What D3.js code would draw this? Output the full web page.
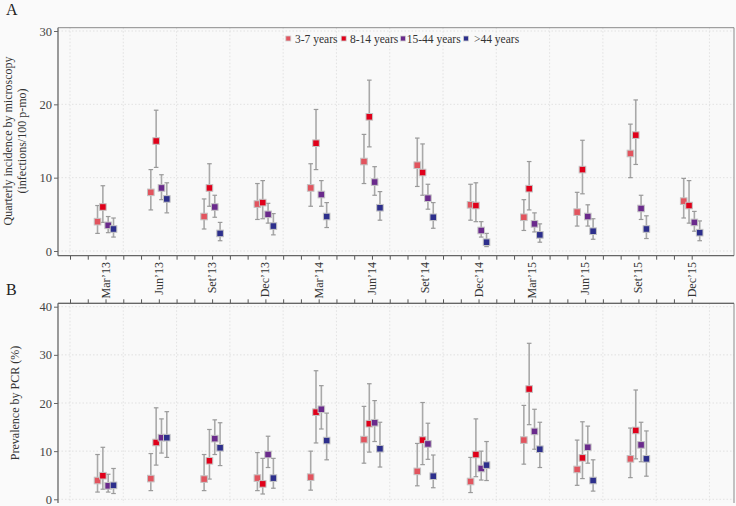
<!DOCTYPE html>
<html><head><meta charset="utf-8">
<script src="https://cdn.jsdelivr.net/npm/d3@7"></script>
<style>
html,body{margin:0;padding:0;background:#fafafa;}
svg{display:block;}
</style></head>
<body>
<svg id="chart" width="736" height="506"></svg>
<script>
// ---------- data ----------
const groups = ["3-7 years", "8-14 years", "15-44 years", ">44 years"];
const colors = ["#E2545E", "#E0001A", "#6A2A8C", "#2D2F8C"];
const quarterLabels = ["Mar\u201913","Jun\u201913","Set\u201913","Dec\u201913","Mar\u201914","Jun\u201914","Set\u201914","Dec\u201914","Mar\u201915","Jun\u201915","Set\u201915","Dec\u201915"];
const quarterMonths = [2,5,8,11,14,17,20,23,26,29,32,35];   // month index from Jan'13
const monthTicks = d3.range(0, 36);
const gridMonths = [0,3,6,9,12,15,18,21,24,27,30,33,36];

// Panel A: quarterly incidence by microscopy (infections/100 p-mo)
const incEst_3_7   = [4.0, 8.0, 4.7, 6.4, 8.6, 12.2, 11.7, 6.3, 4.6, 5.3, 13.3, 6.8];
const incLo_3_7    = [2.4, 5.6, 3.0, 4.3, 6.1, 9.2, 8.8, 4.2, 2.8, 3.4, 10.0, 4.5];
const incHi_3_7    = [6.2, 11.1, 7.1, 9.2, 11.9, 15.9, 15.4, 9.1, 7.0, 8.0, 17.3, 9.9];
const incEst_8_14  = [6.0, 15.0, 8.6, 6.6, 14.7, 18.3, 10.7, 6.2, 8.5, 11.1, 15.8, 6.2];
const incLo_8_14   = [3.9, 11.4, 6.1, 4.4, 11.1, 14.2, 7.6, 4.0, 5.6, 7.8, 11.8, 3.8];
const incHi_8_14   = [8.9, 19.2, 11.9, 9.6, 19.3, 23.3, 14.6, 9.3, 12.2, 15.1, 20.6, 9.6];
const incEst_15_44 = [3.5, 8.6, 6.0, 5.0, 7.7, 9.4, 7.2, 2.8, 3.7, 4.7, 5.8, 3.9];
const incLo_15_44  = [2.5, 7.0, 4.6, 3.8, 6.1, 7.6, 5.7, 1.9, 2.6, 3.4, 4.3, 2.7];
const incHi_15_44  = [4.7, 10.4, 7.6, 6.5, 9.6, 11.5, 9.1, 4.0, 5.2, 6.3, 7.6, 5.4];
const incEst_44    = [3.0, 7.1, 2.4, 3.4, 4.7, 5.9, 4.6, 1.2, 2.2, 2.7, 3.0, 2.5];
const incLo_44     = [1.9, 5.2, 1.4, 2.2, 3.2, 4.2, 3.1, 0.6, 1.2, 1.6, 1.7, 1.4];
const incHi_44     = [4.5, 9.3, 3.9, 5.1, 6.6, 8.1, 6.6, 2.4, 3.7, 4.4, 4.8, 4.1];

// Panel B: prevalence by PCR (%) (no Dec'15 value)
const prvEst_3_7   = [3.9, 4.3, 4.2, 4.4, 4.6, 12.4, 5.8, 3.7, 12.3, 6.2, 8.4, null];
const prvLo_3_7    = [1.5, 1.8, 1.8, 1.8, 1.9, 7.5, 2.8, 1.4, 7.3, 2.9, 4.5, null];
const prvHi_3_7    = [9.3, 9.5, 9.3, 9.7, 10.0, 19.3, 11.6, 8.7, 19.5, 12.3, 14.8, null];
const prvEst_8_14  = [4.9, 11.8, 8.0, 3.2, 18.1, 15.7, 12.3, 9.3, 22.9, 8.6, 14.3, null];
const prvLo_8_14   = [2.1, 7.1, 4.2, 1.1, 11.7, 9.8, 7.2, 4.7, 15.5, 4.3, 8.4, null];
const prvHi_8_14   = [10.8, 19.0, 14.5, 8.5, 26.7, 24.0, 20.1, 16.7, 32.4, 16.1, 22.7, null];
const prvEst_15_44 = [2.8, 12.8, 12.6, 9.3, 18.7, 15.9, 11.5, 6.4, 14.1, 10.8, 11.3, null];
const prvLo_15_44  = [1.5, 9.6, 9.3, 6.6, 14.6, 12.0, 8.3, 4.0, 10.4, 7.5, 7.8, null];
const prvHi_15_44  = [5.2, 16.7, 16.5, 13.1, 23.6, 20.5, 15.8, 10.0, 18.7, 15.2, 16.0, null];
const prvEst_44    = [2.9, 12.8, 10.7, 4.4, 12.2, 10.5, 4.8, 7.1, 10.4, 3.9, 8.4, null];
const prvLo_44     = [1.2, 8.7, 7.0, 2.3, 8.2, 6.7, 2.4, 3.9, 6.6, 1.7, 4.8, null];
const prvHi_44     = [6.4, 18.2, 15.9, 8.5, 17.9, 16.0, 9.2, 12.0, 16.0, 8.2, 14.2, null];

const incTicks = [0, 10, 20, 30];
const prvTicks = [0, 10, 20, 30, 40];

const FONT = "'Liberation Serif', 'DejaVu Serif', 'Times New Roman', serif";

// ---------- build rows ----------
function rows(est, lo, hi) {
  const out = [];
  groups.forEach((g, gi) => {
    quarterMonths.forEach((m, qi) => {
      if (est[gi][qi] == null) return;
      out.push({g: gi, m: m, v: est[gi][qi], lo: lo[gi][qi], hi: hi[gi][qi]});
    });
  });
  return out;
}
const dataA = rows([incEst_3_7, incEst_8_14, incEst_15_44, incEst_44],
                   [incLo_3_7, incLo_8_14, incLo_15_44, incLo_44],
                   [incHi_3_7, incHi_8_14, incHi_15_44, incHi_44]);
const dataB = rows([prvEst_3_7, prvEst_8_14, prvEst_15_44, prvEst_44],
                   [prvLo_3_7, prvLo_8_14, prvLo_15_44, prvLo_44],
                   [prvHi_3_7, prvHi_8_14, prvHi_15_44, prvHi_44]);

// ---------- layout ----------
const svg = d3.select("#chart").style("font-family", FONT);
const left = 58, right = 734;
const x = d3.scaleLinear().domain([0, 35]).range([70, 691.7]);
const dodge = d3.scalePoint().domain(d3.range(groups.length)).range([-0.45, 0.45]);

const panels = [
  {data: dataA, top: 27.7, bottom: 255.7, y: d3.scaleLinear().domain([0, 30]).range([251, 31]),
   ticks: incTicks, tag: "A", tagY: 15},
  {data: dataB, top: 303.3, bottom: 503, y: d3.scaleLinear().domain([0, 40]).range([499.3, 306.7]),
   ticks: prvTicks, tag: "B", tagY: 295}
];

panels.forEach((p, pi) => {
  const g = svg.append("g");
  g.append("rect").attr("x", left).attr("y", p.top).attr("width", right - left).attr("height", p.bottom - p.top)
    .attr("fill", "#f9f9f9");
  g.selectAll(".hg").data(p.ticks).join("line")
    .attr("x1", left).attr("x2", right).attr("y1", d => p.y(d)).attr("y2", d => p.y(d))
    .attr("stroke", "#dcdcdc").attr("stroke-width", 0.8).attr("stroke-dasharray", "1.5,2");
  g.selectAll(".vg").data(gridMonths).join("line")
    .attr("x1", d => x(d)).attr("x2", d => x(d)).attr("y1", p.top).attr("y2", p.bottom)
    .attr("stroke", "#dcdcdc").attr("stroke-width", 0.8).attr("stroke-dasharray", "1.5,2");
  g.append("path").attr("d", `M${left},${p.top}H${right}V${p.bottom}`)
    .attr("fill", "none").attr("stroke", "#8a8a8a").attr("stroke-width", 1);

  const ya = g.append("g").attr("transform", `translate(${left},0)`)
    .call(d3.axisLeft(p.y).tickValues(p.ticks).tickSize(4).tickPadding(2).tickSizeOuter(0));
  ya.attr("font-family", FONT);
  ya.select(".domain").remove();
  ya.append("line").attr("x1", 0).attr("x2", 0).attr("y1", p.top).attr("y2", p.bottom)
    .attr("stroke", "#666").attr("stroke-width", 1.3);
  ya.selectAll(".tick line").attr("stroke", "#666");
  ya.selectAll(".tick text").attr("fill", "#444").style("font-size", "12.5px")
    .style("font-family", FONT);

  const xa = g.append("g");
  if (pi === 0) {
    xa.attr("transform", `translate(0,${p.bottom})`)
      .call(d3.axisBottom(x).tickValues(monthTicks).tickSize(4).tickFormat(""));
  } else {
    xa.attr("transform", `translate(0,${p.top})`)
      .call(d3.axisTop(x).tickValues(monthTicks).tickSize(4).tickFormat(""));
  }
  xa.select(".domain").remove();
  xa.append("line").attr("x1", left).attr("x2", right).attr("y1", 0).attr("y2", 0)
    .attr("stroke", "#666").attr("stroke-width", 1.3);
  xa.selectAll(".tick line").attr("stroke", "#555");

  const eb = g.append("g");
  const bx = d => x(d.m + dodge(d.g));
  eb.selectAll(".bar").data(p.data).join("line")
    .attr("x1", bx).attr("x2", bx).attr("y1", d => p.y(d.hi)).attr("y2", d => p.y(d.lo))
    .attr("stroke", "#a9a9a9").attr("stroke-width", 1.6);
  ["hi", "lo"].forEach(k => {
    eb.selectAll(".cap" + k).data(p.data).join("line")
      .attr("x1", d => bx(d) - 2.3).attr("x2", d => bx(d) + 2.3)
      .attr("y1", d => p.y(d[k])).attr("y2", d => p.y(d[k]))
      .attr("stroke", "#9a9a9a").attr("stroke-width", 1.2);
  });
  eb.selectAll(".pt").data(p.data).join("rect")
    .attr("x", d => bx(d) - 3.3).attr("y", d => p.y(d.v) - 3.3)
    .attr("width", 6.6).attr("height", 6.6)
    .attr("fill", d => colors[d.g]).attr("stroke", "#c4c4c4").attr("stroke-width", 1);

  svg.append("text").attr("x", 6).attr("y", p.tagY).text(p.tag)
    .style("font-family", FONT).style("font-size", "16px").attr("fill", "#222");
});

// x tick labels (between panels)
svg.append("g").selectAll("text").data(quarterMonths).join("text")
  .attr("transform", d => `translate(${x(d) + 4},262) rotate(-90)`)
  .attr("text-anchor", "end")
  .style("font-family", FONT).style("font-size", "12px").attr("fill", "#333")
  .text((d, i) => quarterLabels[i]);

// y axis titles
const titles = [
  {t: "Quarterly incidence by microscopy", x: 12, y: 141},
  {t: "(infections/100 p-mo)", x: 26, y: 141},
  {t: "Prevalence by PCR (%)", x: 19, y: 403}
];
svg.append("g").selectAll("text").data(titles).join("text")
  .attr("transform", d => `translate(${d.x},${d.y}) rotate(-90)`)
  .attr("text-anchor", "middle")
  .style("font-family", FONT).style("font-size", "12px").attr("fill", "#333")
  .text(d => d.t);

// legend
const legKeyX = [288.3, 343.7, 403, 466];
const legTextX = [295, 350, 406.7, 474];
const leg = svg.append("g").selectAll("g").data(groups).join("g");
leg.append("rect").attr("x", (d, i) => legKeyX[i] - 2.5).attr("y", 36).attr("width", 5).attr("height", 5)
  .attr("fill", (d, i) => colors[i]).attr("stroke", "#d0d0d0").attr("stroke-width", 0.8);
leg.append("text").attr("x", (d, i) => legTextX[i]).attr("y", 42.5)
  .style("font-family", FONT).style("font-size", "11.5px").attr("fill", "#333")
  .text(d => d);
</script>
</body></html>
